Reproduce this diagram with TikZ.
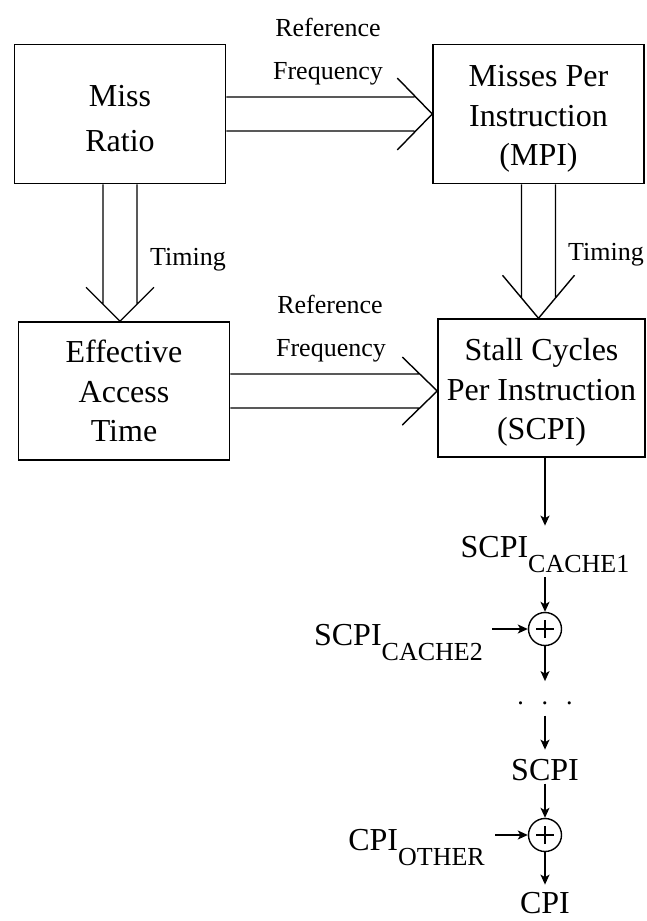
\documentclass[tikz,border=0pt]{standalone}
\usepackage{fontspec}
\setmainfont{Liberation Serif}
\usetikzlibrary{arrows.meta,calc}

\newcommand\boxtext{\fontsize{32}{39.5}\selectfont}
\newcommand\lbltext{\fontsize{26}{30}\selectfont}
\newcommand\lowsub[1]{\raisebox{-15pt}{\fontsize{26}{30}\selectfont #1}}
\newcommand\topgap{\rule{0pt}{31pt}}

\tikzset{
  block/.style={draw, line width=1.5pt, minimum width=211pt, minimum height=139pt,
    align=center, font=\boxtext, inner sep=0pt},
  lbl/.style={font=\lbltext, inner sep=0pt, anchor=base},
  val/.style={font=\boxtext, inner sep=0pt},
  wide/.style={line width=1.4pt},
  flow/.style={line width=1.4pt, -{Stealth[length=10pt, width=9pt, inset=2.5pt]}},
  sum/.style={circle, draw, line width=1.4pt, minimum size=33pt, inner sep=0pt,
    path picture={\draw[line width=1.2pt]
      ([xshift=-9pt]path picture bounding box.center) -- ([xshift=9pt]path picture bounding box.center)
      ([yshift=-9pt]path picture bounding box.center) -- ([yshift=9pt]path picture bounding box.center);}}
}

\begin{document}
\begin{tikzpicture}[x=1pt, y=-1pt]
  \useasboundingbox (0,0) rectangle (646,921);

  % boxes
  \node[block] (miss) at (120,114) {\topgap Miss\\[5.5pt]Ratio};
  \node[block] (mpi) at (538.5,114) {\topgap Misses Per\\Instruction\\(MPI)};
  \node[block, minimum height=138pt] (eat) at (124,391) {Effective\\Access\\Time};
  \node[block, minimum width=207pt, minimum height=138pt] (scpi) at (541.5,388) {\topgap Stall Cycles\\Per Instruction\\(SCPI)};

  % labels
  \node[lbl] (ref1) at (328,36) {Reference};
  \node[lbl] (freq1) at (328,79) {Frequency};
  \node[lbl] (ref2) at (330,313) {Reference};
  \node[lbl] (freq2) at (331,356) {Frequency};
  \node[lbl] (time1) at (188,265) {Timing};
  \node[lbl] (time2) at (606,260) {Timing};

  % double arrows
  \coordinate (tip1) at (miss.east -| mpi.west);
  \draw[wide] ([yshift=17pt]miss.east) -- ([xshift=-18pt,yshift=17pt]tip1)
    ([yshift=-17pt]miss.east) -- ([xshift=-18pt,yshift=-17pt]tip1)
    ([xshift=-35pt,yshift=36pt]tip1) -- (tip1) -- ([xshift=-35pt,yshift=-36pt]tip1);

  \coordinate (tip2) at (eat.east -| scpi.west);
  \draw[wide] ([yshift=17pt]eat.east) -- ([xshift=-18pt,yshift=17pt]tip2)
    ([yshift=-17pt]eat.east) -- ([xshift=-18pt,yshift=-17pt]tip2)
    ([xshift=-35pt,yshift=34pt]tip2) -- (tip2) -- ([xshift=-35pt,yshift=-34pt]tip2);

  \coordinate (tip3) at (miss.south |- eat.north);
  \draw[wide] ([xshift=-17pt]miss.south) -- ([xshift=-17pt,yshift=17pt]tip3)
    ([xshift=17pt]miss.south) -- ([xshift=17pt,yshift=17pt]tip3)
    ([xshift=-34pt,yshift=34pt]tip3) -- (tip3) -- ([xshift=34pt,yshift=34pt]tip3);

  \coordinate (tip4) at (mpi.south |- scpi.north);
  \draw[wide] ([xshift=-17pt]mpi.south) -- ([xshift=-17pt,yshift=20pt]tip4)
    ([xshift=17pt]mpi.south) -- ([xshift=17pt,yshift=20pt]tip4)
    ([xshift=-36pt,yshift=43pt]tip4) -- (tip4) -- ([xshift=36pt,yshift=43pt]tip4);

  % summing chain
  \node[val, anchor=base] (c1) at (545,557) {SCPI\lowsub{CACHE1}};
  \node[sum] (s1) at (545,629) {};
  \node[val, anchor=base east] (c2) at (483,645) {SCPI\lowsub{CACHE2}};
  \node[lbl] (dots) at (545,704) {.\hspace{18pt}.\hspace{18pt}.};
  \node[val, anchor=base] (scpi2) at (545,780) {SCPI};
  \node[sum] (s2) at (545,835) {};
  \node[val, anchor=base east] (other) at (485,850) {CPI\lowsub{OTHER}};
  \node[val, anchor=base] (cpi) at (545,913) {CPI};

  \draw[flow, shorten >=10pt] (c1 |- scpi.south) -- (c1);
  \draw[flow, shorten <=5pt] (c1) -- (s1);
  \draw[flow, shorten <=9pt] (s1 -| c2.east) -- (s1);
  \draw[flow, shorten >=20pt] (s1) -- (dots);
  \draw[flow, shorten <=11pt, shorten >=9pt] (dots) -- (scpi2);
  \draw[flow, shorten <=3pt] (scpi2) -- (s2);
  \draw[flow, shorten <=10pt] (s2 -| other.east) -- (s2);
  \draw[flow, shorten >=7pt] (s2) -- (cpi);
\end{tikzpicture}
\end{document}
